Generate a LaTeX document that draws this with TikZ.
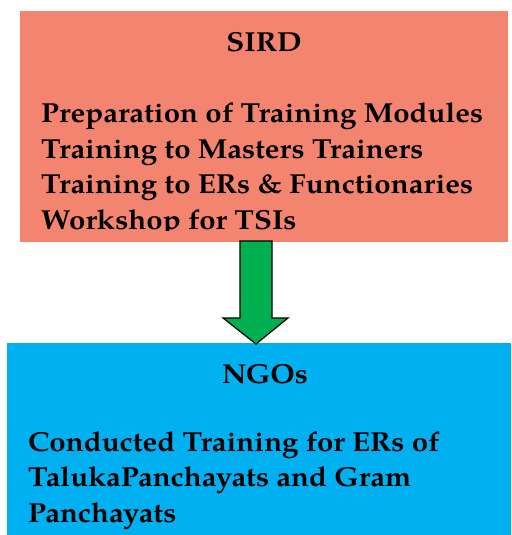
\documentclass[tikz,border=0pt]{standalone}
\usepackage{fontspec}
\setmainfont{TeX Gyre Pagella}
\newfontfamily\boxfont{TeX Gyre Pagella}[FakeStretch=1.07]
\usetikzlibrary{positioning}
\definecolor{sirdsalmon}{HTML}{F28470}
\definecolor{ngocyan}{HTML}{00B0F0}
\definecolor{flowgreen}{HTML}{00B050}

\begin{document}
\begin{tikzpicture}[x=1pt, y=-1pt,
  panel/.style={anchor=north west, inner sep=0pt, outer sep=0pt},
  head/.style={font=\boxfont\fontsize{27.5}{35.5}\selectfont\bfseries, inner sep=0pt, anchor=base},
  body/.style={font=\boxfont\fontsize{27.5}{35.5}\selectfont\bfseries, inner sep=0pt, align=left, anchor=base west},
  flow/.style={draw=black, fill=flowgreen, line width=1.2pt, line join=miter}
]
\useasboundingbox (0,0) rectangle (511,535);
% the two boxes
\node[panel, fill=sirdsalmon, minimum width=488pt, minimum height=231pt] (sird) at (20,11) {};
\node[panel, fill=ngocyan, minimum width=504pt, minimum height=192pt] (ngo) at (7,343) {};
% texts (base anchor sits on the last line)
\node[head] (sirdtitle) at (264,52) {SIRD};
\begin{scope}
  \clip (20,11) rectangle (508,230.5);
  \node[body] (sirdlist) at (41,229) {Preparation of Training Modules\\Training to Masters Trainers\\Training to ERs \& Functionaries\\Workshop for TSIs};
\end{scope}
\node[head] (ngotitle) at (265,383) {NGOs};
\node[body] (ngolist) at (28,522) {Conducted Training for ERs of\\TalukaPanchayats and Gram\\Panchayats};
% block arrow
\coordinate (flowtop) at (256,241);
\coordinate (flowtip) at (256,344);
\draw[flow] (flowtop) ++(-16,0) -- ++(32,0) -- ++(0,77) -- ++(16,0) -- (flowtip)
  -- ++(-33,-26) -- ++(17,0) -- cycle;
\end{tikzpicture}
\end{document}
